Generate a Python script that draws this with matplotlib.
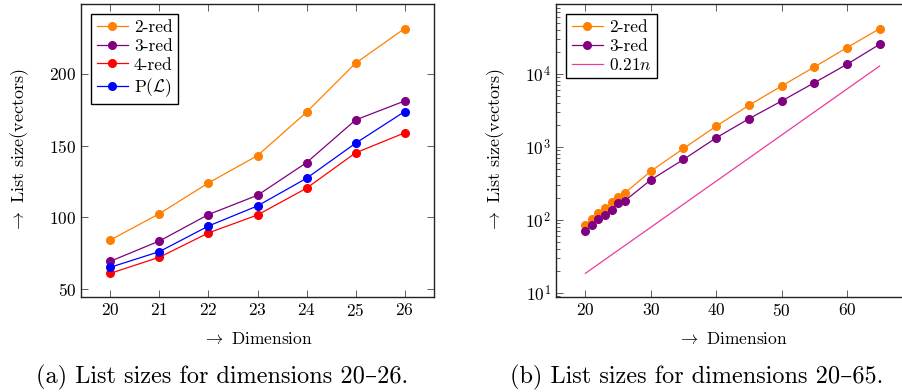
import matplotlib
matplotlib.use("Agg")
import matplotlib.pyplot as plt
from matplotlib.ticker import LogLocator, FixedLocator

plt.rcParams['font.family'] = ['cmr10', 'DejaVu Serif']
plt.rcParams['mathtext.fontset'] = 'cm'
plt.rcParams['axes.formatter.use_mathtext'] = True
plt.rcParams['axes.unicode_minus'] = False

# data
dims_a = [20, 21, 22, 23, 24, 25, 26]
red2_a = [84.3, 102.6, 124.0, 143.0, 173.2, 207.3, 231.4]
red3_a = [69.5, 83.6, 102.0, 115.4, 138.1, 167.8, 181.0]
red4_a = [61.1, 72.3, 89.2, 101.7, 120.3, 144.9, 158.8]
plat_a = [65.3, 76.2, 94.0, 108.0, 127.2, 151.6, 173.6]

dims_b = [20, 21, 22, 23, 24, 25, 26, 30, 35, 40, 45, 50, 55, 60, 65]
red2_b = red2_a + [463, 950, 1923, 3706, 6826, 12450, 22900, 41800]
red3_b = red3_a + [352, 671, 1330, 2427, 4250, 7570, 13550, 25500]
ref_dims = [20, 65]
ref_vals = [18.4, 12850]

ORANGE = '#FF8000'
VIOLET = '#800080'
RED = '#FF0000'
BLUE = '#0000FF'
PINK = '#EC3A9E'

fs = 12.5
fig = plt.figure(figsize=(9.02, 3.92), dpi=100)
ax1 = fig.add_axes((81 / 902, 1 - 297 / 392, 353 / 902, 293 / 392))
ax2 = fig.add_axes((556 / 902, 1 - 297 / 392, 353 / 902, 293 / 392))

mk = dict(marker='o', markersize=5.5, linewidth=0.9)
ax1.plot(dims_a, red2_a, color=ORANGE, label='2-red', **mk)
ax1.plot(dims_a, red3_a, color=VIOLET, label='3-red', **mk)
ax1.plot(dims_a, red4_a, color=RED, label='4-red', **mk)
ax1.plot(dims_a, plat_a, color=BLUE, label=r'P$(\mathcal{L})$', **mk)
ax1.set_xlim(19.4, 26.6)
ax1.set_ylim(44.6, 248.5)
ax1.set_xticks(dims_a)
ax1.set_yticks([50, 100, 150, 200])

ax2.plot(dims_b, red2_b, color=ORANGE, label='2-red', **mk)
ax2.plot(dims_b, red3_b, color=VIOLET, label='3-red', **mk)
ax2.plot(ref_dims, ref_vals, color=PINK, linewidth=0.9, label=r'$0.21n$')
ax2.set_yscale('log')
ax2.set_xlim(15.5, 69.5)
ax2.set_ylim(10 ** 0.94, 10 ** 4.96)
ax2.set_xticks([20, 30, 40, 50, 60])
ax2.yaxis.set_major_locator(FixedLocator([10, 100, 1000, 10000]))
ax2.yaxis.set_minor_locator(LogLocator(base=10, subs=range(2, 10), numticks=20))

for ax in (ax1, ax2):
    ax.tick_params(which='both', direction='in', top=True, right=True,
                   labelsize=fs, width=0.6, color='#444444')
    ax.tick_params(which='major', length=5)
    ax.tick_params(which='minor', length=3)
    for s in ax.spines.values():
        s.set_linewidth(1.0)
        s.set_color('#222222')
    ax.set_xlabel(r'$\rightarrow$ Dimension', fontsize=12.5, labelpad=9)
    ax.set_ylabel(r'$\rightarrow$ List size(vectors)', fontsize=13, labelpad=13)
    leg = ax.legend(loc='upper left', fontsize=12.5, fancybox=False,
                    edgecolor='black', framealpha=1, borderpad=0.3,
                    labelspacing=0.2, handlelength=1.8, handletextpad=0.35,
                    borderaxespad=0.6)
    leg.get_frame().set_linewidth(1.0)

fig.text(221.7 / 902, 1 - 377 / 392, '(a) List sizes for dimensions 20\u201326.',
         ha='center', va='center', fontsize=17.5)
fig.text(696.7 / 902, 1 - 377 / 392, '(b) List sizes for dimensions 20\u201365.',
         ha='center', va='center', fontsize=17.5)

fig.savefig('out.png', dpi=100)
